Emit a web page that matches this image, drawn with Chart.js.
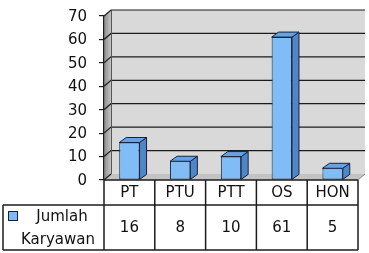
<!DOCTYPE html>
<html>
<head>
<meta charset="utf-8">
<script src="https://cdn.jsdelivr.net/npm/chart.js@4"></script>
<style>
    body { margin: 0; background: #fff; }
    #wrap { width: 369px; height: 253px; }
</style>
</head>
<body>
<div id="wrap"><canvas id="chart"></canvas></div>
<script>
// =============================
// Data
// =============================

const categories = ['PT', 'PTU', 'PTT', 'OS', 'HON'];
const jumlahKaryawan = [16, 8, 10, 61, 5];
const seriesName = ['Jumlah', 'Karyawan'];
const yMin = 0;
const yMax = 70;
const yStep = 10;

// 3D depth of walls and bars
const WALL_DX = 7, WALL_DY = 6;
const BAR_DX = 7, BAR_DY = 5;
const FONT = '15px "DejaVu Sans"';
const LINE = '#1c1c1c';


// =============================
// Plugins
// =============================

// back wall, left wall, floor and the grid lines on them
const wallsPlugin = {
    id: 'walls',
    beforeDraw(chart) {
        const ctx = chart.ctx;
        const a = chart.chartArea;
        const y = chart.scales.y;
        const top = y.getPixelForValue(yMax);
        const bottom = y.getPixelForValue(yMin);

        ctx.save();

        // back wall
        ctx.fillStyle = '#d9d9d9';
        ctx.fillRect(a.left + WALL_DX, top - WALL_DY, a.right - a.left, bottom - top);

        // left wall
        const grad = ctx.createLinearGradient(a.left, 0, a.left + WALL_DX, 0);
        grad.addColorStop(0, '#8c8c8c');
        grad.addColorStop(1, '#c4c4c4');
        ctx.fillStyle = grad;
        ctx.beginPath();
        ctx.moveTo(a.left, top);
        ctx.lineTo(a.left + WALL_DX, top - WALL_DY);
        ctx.lineTo(a.left + WALL_DX, bottom - WALL_DY);
        ctx.lineTo(a.left, bottom);
        ctx.closePath();
        ctx.fill();

        // floor
        ctx.fillStyle = '#c3c3c3';
        ctx.beginPath();
        ctx.moveTo(a.left, bottom);
        ctx.lineTo(a.left + WALL_DX, bottom - WALL_DY);
        ctx.lineTo(a.right + WALL_DX, bottom - WALL_DY);
        ctx.lineTo(a.right, bottom);
        ctx.closePath();
        ctx.fill();
        ctx.strokeStyle = '#8a8a8a';
        ctx.lineWidth = 1;
        ctx.beginPath();
        ctx.moveTo(a.right + WALL_DX, bottom - WALL_DY);
        ctx.lineTo(a.right, bottom);
        ctx.stroke();

        // grid lines
        ctx.strokeStyle = LINE;
        ctx.lineWidth = 1.2;
        for (let v = yMin; v <= yMax; v += yStep) {
            const py = y.getPixelForValue(v);
            ctx.beginPath();
            ctx.moveTo(a.left, py);
            ctx.lineTo(a.left + WALL_DX, py - WALL_DY);
            if (v > yMin) ctx.lineTo(a.right + WALL_DX, py - WALL_DY);
            ctx.stroke();
        }

        // wall edge
        ctx.strokeStyle = '#555';
        ctx.lineWidth = 1;
        ctx.beginPath();
        ctx.moveTo(a.left + WALL_DX + 0.5, top - WALL_DY);
        ctx.lineTo(a.left + WALL_DX + 0.5, bottom - WALL_DY);
        ctx.stroke();

        ctx.restore();
    }
};

// top and side faces of the bars
const barsPlugin = {
    id: 'bars3d',
    afterDatasetsDraw(chart) {
        const ctx = chart.ctx;
        const meta = chart.getDatasetMeta(0);
        ctx.save();
        ctx.strokeStyle = '#16233f';
        ctx.lineWidth = 1;
        ctx.lineJoin = 'round';
        meta.data.forEach(bar => {
            const l = bar.x - bar.width / 2;
            const r = bar.x + bar.width / 2;
            const t = bar.y;
            const b = bar.base;

            // side
            ctx.fillStyle = '#4f86c8';
            ctx.beginPath();
            ctx.moveTo(r, t);
            ctx.lineTo(r + BAR_DX, t - BAR_DY);
            ctx.lineTo(r + BAR_DX, b - BAR_DY);
            ctx.lineTo(r, b);
            ctx.closePath();
            ctx.fill();
            ctx.stroke();

            // top
            ctx.fillStyle = '#66a3e6';
            ctx.beginPath();
            ctx.moveTo(l, t);
            ctx.lineTo(l + BAR_DX, t - BAR_DY);
            ctx.lineTo(r + BAR_DX, t - BAR_DY);
            ctx.lineTo(r, t);
            ctx.closePath();
            ctx.fill();
            ctx.stroke();
        });
        ctx.restore();
    }
};

// data table under the plot
const tablePlugin = {
    id: 'dataTable',
    afterDraw(chart) {
        const ctx = chart.ctx;
        const a = chart.chartArea;
        const x = chart.scales.x;
        const rowTop = a.bottom;
        const rowMid = rowTop + 25;
        const rowBottom = rowTop + 70;
        const legendLeft = 3;
        const colW = (a.right - a.left) / categories.length;

        ctx.save();
        ctx.strokeStyle = LINE;
        ctx.lineWidth = 1.5;

        ctx.beginPath();
        // horizontal lines
        ctx.moveTo(a.left, rowTop);
        ctx.lineTo(a.right, rowTop);
        ctx.moveTo(legendLeft, rowMid);
        ctx.lineTo(a.right, rowMid);
        ctx.moveTo(legendLeft, rowBottom);
        ctx.lineTo(a.right, rowBottom);
        // vertical lines
        ctx.moveTo(legendLeft, rowMid);
        ctx.lineTo(legendLeft, rowBottom);
        for (let i = 0; i <= categories.length; i++) {
            const px = a.left + i * colW;
            ctx.moveTo(px, rowTop);
            ctx.lineTo(px, rowBottom);
        }
        ctx.stroke();

        // texts
        ctx.fillStyle = '#111';
        ctx.font = FONT;
        ctx.textAlign = 'center';
        ctx.textBaseline = 'middle';
        categories.forEach((c, i) => {
            const px = x.getPixelForValue(i);
            ctx.fillText(c, px, (rowTop + rowMid) / 2 + 1);
            ctx.fillText(String(jumlahKaryawan[i]), px, (rowMid + rowBottom) / 2 + 1);
        });

        // legend cell
        ctx.fillText(seriesName[0], 62, rowMid + 12);
        ctx.fillText(seriesName[1], 58, rowMid + 35);
        ctx.fillStyle = '#7fbaf4';
        ctx.fillRect(8.5, rowMid + 6.5, 9, 9);
        ctx.strokeStyle = '#16233f';
        ctx.lineWidth = 1;
        ctx.strokeRect(8.5, rowMid + 6.5, 9, 9);

        ctx.restore();
    }
};


// =============================
// Chart
// =============================

const chart = new Chart(document.getElementById('chart'), {
    type: 'bar',
    data: {
        labels: categories,
        datasets: [{
            label: seriesName.join(' '),
            data: jumlahKaryawan,
            backgroundColor: '#80bdf6',
            borderColor: '#16233f',
            borderWidth: 1,
            borderSkipped: false,
            categoryPercentage: 1,
            barPercentage: 0.4
        }]
    },
    options: {
        responsive: true,
        maintainAspectRatio: false,
        animation: false,
        layout: {
            padding: { left: 0, right: 11, top: 16, bottom: 73 }
        },
        plugins: {
            legend: { display: false },
            tooltip: { enabled: false }
        },
        scales: {
            x: {
                display: false
            },
            y: {
                min: yMin,
                max: yMax,
                afterFit(scale) {
                    scale.width = 104;
                    // let the layout padding alone decide the plot's top and bottom
                    scale.paddingTop = 0;
                    scale.paddingBottom = 0;
                },
                ticks: {
                    stepSize: yStep,
                    color: '#111',
                    font: { family: 'DejaVu Sans', size: 15 },
                    padding: 12,
                    labelOffset: 1
                },
                grid: {
                    drawOnChartArea: false,
                    tickLength: 5,
                    color: LINE,
                    lineWidth: 1.2
                },
                border: {
                    color: LINE,
                    width: 1.2
                }
            }
        }
    },
    plugins: [wallsPlugin, barsPlugin, tablePlugin]
});
</script>
</body>
</html>
